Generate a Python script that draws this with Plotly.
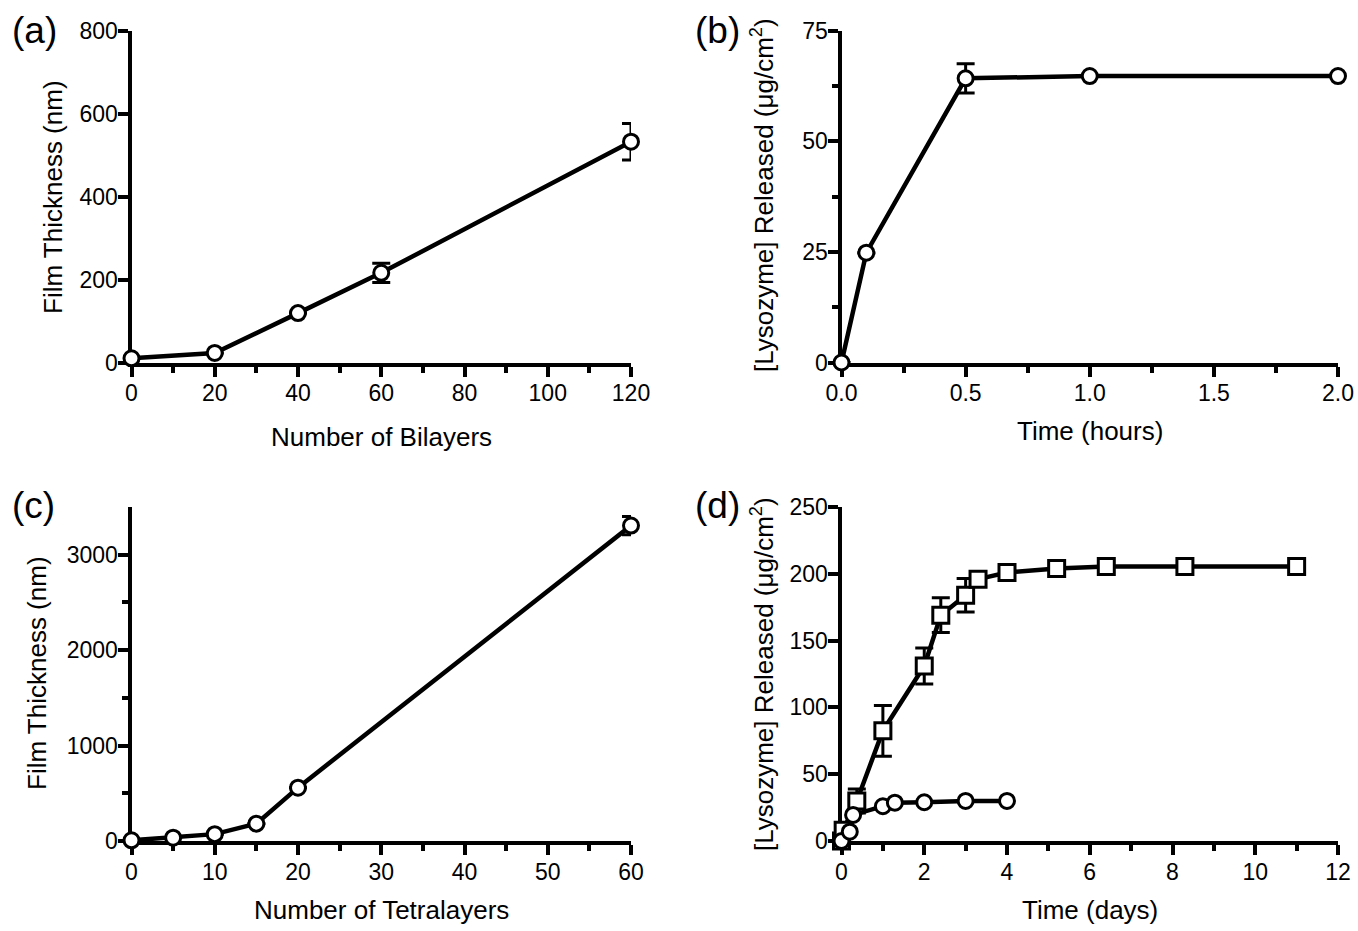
import plotly.graph_objects as go

# ---------------- data ----------------
# (a) film thickness vs bilayers
a_x = [0, 20, 40, 60, 120]
a_y = [10, 23, 119, 216, 532]
a_err = [None, None, None, 23, 44]

# (b) lysozyme released vs time (hours)
b_x = [0, 0.1, 0.5, 1.0, 2.0]
b_y = [0, 24.8, 64.2, 64.7, 64.7]
b_err = [None, None, 3.3, None, None]

# (c) film thickness vs tetralayers
c_x = [0, 5, 10, 15, 20, 60]
c_y = [7, 35, 72, 182, 559, 3305]
c_err = [None, None, None, None, None, 95]

# (d) lysozyme released vs time (days)
d_sq_x = [0, 0.04, 0.37, 1.0, 2.0, 2.4, 3.0, 3.3, 4.0, 5.2, 6.4, 8.3, 11.0]
d_sq_y = [0, 8, 30, 82.5, 131, 169, 184, 196, 201, 204, 205.5, 205.5, 205.5]
d_sq_err = [None, None, 9, 19, 13.5, 13, 12.5, None, None, None, None, None, None]
d_ci_x = [0, 0.2, 0.28, 1.0, 1.29, 2.0, 3.0, 4.0]
d_ci_y = [0, 7, 19.5, 26, 28.7, 29, 30, 30]

# axis ticks
a_xticks = [0, 20, 40, 60, 80, 100, 120]
a_xminor = [10, 30, 50, 70, 90, 110]
a_yticks = [0, 200, 400, 600, 800]
b_xticks = [0.0, 0.5, 1.0, 1.5, 2.0]
b_xminor = [0.25, 0.75, 1.25, 1.75]
b_yticks = [0, 25, 50, 75]
b_yminor = [12.5, 37.5, 62.5]
c_xticks = [0, 10, 20, 30, 40, 50, 60]
c_xminor = [5, 15, 25, 35, 45, 55]
c_yticks = [0, 1000, 2000, 3000]
c_yminor = [500, 1500, 2500]
d_xticks = [0, 2, 4, 6, 8, 10, 12]
d_xminor = [1, 3, 5, 7, 9, 11]
d_yticks = [0, 50, 100, 150, 200, 250]

W, H = 1358, 931
FONT = "Liberation Sans, Arial, sans-serif"
TICKFONT = dict(family=FONT, size=23, color="black")
TITLEFONT = dict(family=FONT, size=26, color="black")


def px_x(p):
    return p / W


def px_y(p):
    return 1 - p / H


def axis(domain, rng, tickvals, minor=None, fmt=None, standoff=0):
    d = dict(
        domain=domain, range=rng, tickmode="array", tickvals=tickvals,
        showline=True, linecolor="black", linewidth=4,
        ticks="outside", ticklen=10, tickwidth=3.5, tickcolor="black",
        showgrid=False, zeroline=False, tickfont=TICKFONT,
        layer="below traces", fixedrange=True, ticklabelstandoff=standoff,
        automargin=False,
    )
    if fmt:
        d["tickformat"] = fmt
    if minor:
        d["minor"] = dict(tickmode="array", tickvals=minor, ticklen=6,
                          tickwidth=3.5, tickcolor="black", showgrid=False)
    return d


LEFT = [px_x(131.5), px_x(631)]
RIGHT = [px_x(841.5), px_x(1338)]
TOP = [px_y(362.5), px_y(30.5)]
BOT = [px_y(841), px_y(507)]
XS = -3   # x tick label standoff
YS = -5   # y tick label standoff

fig = go.Figure()

circle = dict(symbol="circle", size=15, color="white", line=dict(color="black", width=3))
square = dict(symbol="square", size=16, color="white", line=dict(color="black", width=3))
line = dict(color="black", width=4.5)


def err(arr):
    return dict(type="data", array=arr, visible=True, color="black", thickness=3, width=9)


fig.add_trace(go.Scatter(x=a_x, y=a_y, mode="lines+markers", marker=circle, line=line,
                         error_y=err(a_err), xaxis="x", yaxis="y", cliponaxis=False))
fig.add_trace(go.Scatter(x=b_x, y=b_y, mode="lines+markers", marker=circle, line=line,
                         error_y=err(b_err), xaxis="x2", yaxis="y2", cliponaxis=False))
fig.add_trace(go.Scatter(x=c_x, y=c_y, mode="lines+markers", marker=circle, line=line,
                         error_y=err(c_err), xaxis="x3", yaxis="y3", cliponaxis=False))
fig.add_trace(go.Scatter(x=d_sq_x, y=d_sq_y, mode="lines+markers", marker=square, line=line,
                         error_y=err(d_sq_err), xaxis="x4", yaxis="y4", cliponaxis=False))
fig.add_trace(go.Scatter(x=d_ci_x, y=d_ci_y, mode="lines+markers", marker=circle, line=line,
                         xaxis="x4", yaxis="y4", cliponaxis=False))

layout = dict(
    width=W, height=H, margin=dict(l=0, r=0, t=0, b=0, pad=0, autoexpand=False),
    paper_bgcolor="white", plot_bgcolor="white", showlegend=False,
    xaxis=dict(axis(LEFT, [0, 120], a_xticks, a_xminor, standoff=XS), anchor="y"),
    yaxis=dict(axis(TOP, [0, 800], a_yticks, standoff=YS), anchor="x"),
    xaxis2=dict(axis(RIGHT, [0, 2], b_xticks, b_xminor, ".1f", standoff=XS), anchor="y2"),
    yaxis2=dict(axis(TOP, [0, 75], b_yticks, b_yminor, standoff=YS), anchor="x2"),
    xaxis3=dict(axis(LEFT, [0, 60], c_xticks, c_xminor, standoff=XS), anchor="y3"),
    yaxis3=dict(axis(BOT, [0, 3500], c_yticks, c_yminor, standoff=YS), anchor="x3"),
    xaxis4=dict(axis(RIGHT, [0, 12], d_xticks, d_xminor, standoff=XS), anchor="y4"),
    yaxis4=dict(axis(BOT, [0, 250], d_yticks, standoff=YS), anchor="x4"),
)
fig.update_layout(**layout)


def ann(text, x, y, angle=0, font=TITLEFONT):
    fig.add_annotation(text=text, x=px_x(x), y=px_y(y), xref="paper", yref="paper",
                       showarrow=False, textangle=angle, font=font,
                       xanchor="center", yanchor="middle")


PANELFONT = dict(family=FONT, size=37, color="black")
ann("(a)", 34, 30, font=PANELFONT)
ann("(b)", 717, 30, font=PANELFONT)
ann("(c)", 33, 505, font=PANELFONT)
ann("(d)", 717, 505, font=PANELFONT)

ann("Number of Bilayers", 381, 437)
ann("Time (hours)", 1090, 431)
ann("Number of Tetralayers", 381, 910)
ann("Time (days)", 1090, 910)

ann("Film Thickness (nm)", 53, 197, angle=-90)
ann("Film Thickness (nm)", 37, 673, angle=-90)
ann("[Lysozyme] Released (μg/cm<sup>2</sup>)", 762, 195, angle=-90)
ann("[Lysozyme] Released (μg/cm<sup>2</sup>)", 762, 674, angle=-90)

fig.write_html(
    "out.html",
    config={"displayModeBar": False},
    post_script="document.body.style.margin='0px';document.body.style.overflow='hidden';",
)
